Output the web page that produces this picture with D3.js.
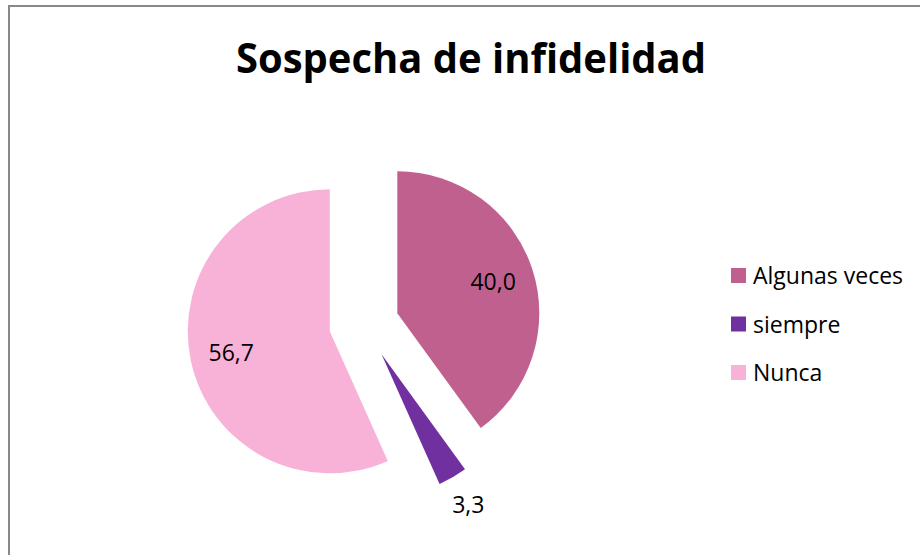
<!DOCTYPE html>
<html>
<head>
<meta charset="utf-8">
<script src="https://cdn.jsdelivr.net/npm/d3@7"></script>
<style>
  body { margin: 0; background: #fff; }
  svg { display: block; }
  text { font-family: "Open Sans", "Liberation Sans", sans-serif; fill: #000; }
</style>
</head>
<body>
<div id="chart"></div>
<script>
// data
var categories = ["Algunas veces", "siempre", "Nunca"];
var values = [40.0, 3.3, 56.7];
var labels = ["40,0", "3,3", "56,7"];
var colors = ["#C0608F", "#7030A0", "#F8B2D8"];

var width = 920,
    height = 555,
    cx = 364, cy = 324,
    radius = 142,
    explode = 35;

var svg = d3.select("#chart").append("svg")
    .attr("width", width)
    .attr("height", height);

// chart frame
svg.append("rect")
    .attr("x", 9).attr("y", 6)
    .attr("width", width + 20).attr("height", height + 20)
    .attr("fill", "#fff")
    .attr("stroke", "#888")
    .attr("stroke-width", 2);

svg.append("text")
    .attr("x", 471)
    .attr("y", 73)
    .attr("text-anchor", "middle")
    .attr("textLength", 470)
    .attr("lengthAdjust", "spacingAndGlyphs")
    .style("font-size", "42px")
    .style("font-weight", "bold")
    .text("Sospecha de infidelidad");

var pie = d3.pie().sort(null).value(function(d) { return d; });
var arcs = pie(values);

var arc = d3.arc().innerRadius(0).outerRadius(radius);

function offset(d, dist) {
  var a = (d.startAngle + d.endAngle) / 2;
  return [Math.sin(a) * dist, -Math.cos(a) * dist];
}

var g = svg.append("g").attr("transform", "translate(" + cx + "," + cy + ")");

g.selectAll(".slice")
  .data(arcs)
  .enter().append("path")
    .attr("class", "slice")
    .attr("transform", function(d) { var o = offset(d, explode); return "translate(" + o[0] + "," + o[1] + ")"; })
    .attr("d", arc)
    .attr("fill", function(d, i) { return colors[i]; });

// labels: inside for big slices, outside for the small one
g.selectAll(".lbl")
  .data(arcs)
  .enter().append("text")
    .attr("class", "lbl")
    .attr("transform", function(d) {
      var dist = explode + (d.data < 10 ? radius * 1.22 : radius * 0.71);
      var o = offset(d, dist);
      return "translate(" + o[0] + "," + o[1] + ")";
    })
    .attr("text-anchor", "middle")
    .attr("dy", "0.36em")
    .style("font-size", "23px")
    .text(function(d, i) { return labels[i]; });

// legend
var legend = svg.append("g").attr("transform", "translate(731,268)");
var item = legend.selectAll(".item")
  .data(categories)
  .enter().append("g")
    .attr("class", "item")
    .attr("transform", function(d, i) { return "translate(0," + (i * 48.5) + ")"; });

item.append("rect")
    .attr("width", 15).attr("height", 15)
    .attr("fill", function(d, i) { return colors[i]; });

item.append("text")
    .attr("x", 22)
    .attr("y", 16)
    .style("font-size", "23px")
    .text(function(d) { return d; });
</script>
</body>
</html>
